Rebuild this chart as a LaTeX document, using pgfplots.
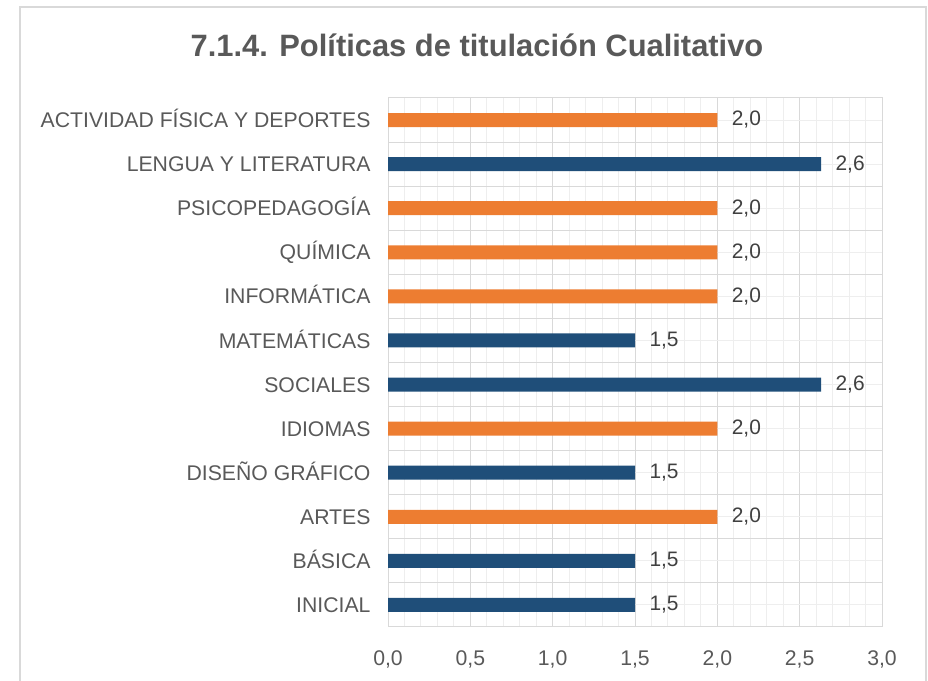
\documentclass[border=0pt]{standalone}
\usepackage{pgfplots}
\pgfplotsset{compat=1.18}
\usepackage{fontspec}
\setmainfont{Liberation Sans}
\definecolor{cblue}{HTML}{1F4E79}
\definecolor{corange}{HTML}{ED7D31}
\definecolor{gmaj}{HTML}{D9D9D9}
\definecolor{gmin}{HTML}{EEEEEE}
\definecolor{txt}{HTML}{595959}
\definecolor{lbl}{HTML}{404040}
\begin{document}
\begin{tikzpicture}[x=1bp,y=1bp]
\path[use as bounding box] (0,0) rectangle (928,681);
\draw[gmaj,line width=2bp] (20,-10) -- (20,674) -- (926,674) -- (926,-10);
\node[font=\fontsize{31}{35}\selectfont\bfseries,text=txt] at (477,636) {7.1.4. Políticas de titulación Cualitativo};
\begin{axis}[
  at={(388bp,54bp)}, anchor=south west,
  scale only axis, width=494bp, height=529bp,
  xbar, bar width=14bp,
  xmin=0, xmax=3, ymin=-0.5, ymax=11.5,
  xtick={0,0.5,...,3}, minor x tick num=4,
  ytick={-0.5,0.5,...,11.5}, yticklabels={}, minor y tick num=1,
  extra y ticks={0,1,2,3,4,5,6,7,8,9,10,11},
  extra y tick labels={INICIAL,BÁSICA,ARTES,DISEÑO GRÁFICO,IDIOMAS,SOCIALES,MATEMÁTICAS,INFORMÁTICA,QUÍMICA,PSICOPEDAGOGÍA,LENGUA Y LITERATURA,ACTIVIDAD FÍSICA Y DEPORTES},
  extra y tick style={grid=none, major tick length=0pt},
  grid=both,
  major grid style={draw=gmaj, line width=1bp},
  minor grid style={draw=gmin, line width=1bp},
  axis line style={draw=gmaj, line width=1bp},
  major tick length=0pt, minor tick length=0pt,
  tick style={draw=none},
  ticklabel style={font=\fontsize{21.3}{25}\selectfont, text=txt},
  yticklabel style={anchor=base east, xshift=-14bp, yshift=-7.6bp},
  xticklabel style={yshift=-20bp},
  /pgf/number format/.cd, fixed, fixed zerofill, precision=1, use comma, assume math mode=true,
  /pgfplots/.cd,
  nodes near coords,
  nodes near coords style={font=\fontsize{21}{25}\selectfont, text=lbl, anchor=west, xshift=11bp,
    /pgf/number format/.cd, fixed, fixed zerofill, precision=1, use comma, assume math mode=true},
  axis on top=false,
]
\addplot[fill=cblue, draw=none, bar shift=0pt] coordinates {
(1.5,0) (1.5,1) (1.5,3) (2.63,5) (1.5,6) (2.63,10)};
\addplot[fill=corange, draw=none, bar shift=0pt] coordinates {
(2.0,2) (2.0,4) (2.0,7) (2.0,8) (2.0,9) (2.0,11)};
\end{axis}
\end{tikzpicture}
\end{document}
